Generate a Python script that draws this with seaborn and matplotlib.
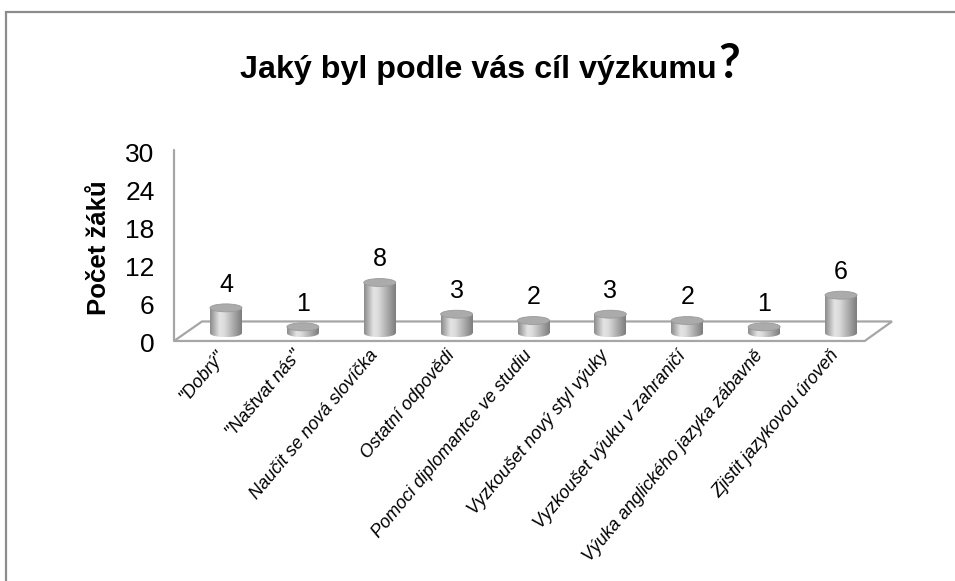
import numpy as np
import pandas as pd
import matplotlib
matplotlib.use("Agg")
import matplotlib.pyplot as plt
import matplotlib.transforms as mtransforms
from matplotlib.patches import Ellipse, Polygon, Rectangle
from matplotlib.colors import LinearSegmentedColormap
import seaborn as sns

# ---- data ----
categories = ['"Dobrý"', '"Naštvat nás"', 'Naučit se nová slovíčka', 'Ostatní odpovědi',
              'Pomoci diplomantce ve studiu', 'Vyzkoušet nový styl výuky',
              'Vyzkoušet výuku v zahraničí', 'Výuka anglického jazyka zábavně',
              'Zjistit jazykovou úroveň']
values = [4, 1, 8, 3, 2, 3, 2, 1, 6]
y_ticks = [0, 6, 12, 18, 24, 30]
title_text = "Jaký byl podle vás cíl výzkumu"
y_label = "Počet žáků"

sns.set_theme(style="white")
plt.rcParams["font.family"] = ["Liberation Sans", "DejaVu Sans"]

W, H = 955, 581
fig = plt.figure(figsize=(W / 100, H / 100), dpi=100)
fig.patch.set_facecolor("white")

# outer frame (top and left visible)
fig.patches.append(Rectangle((6 / W, -0.1), 1.2, 1 - 12 / H + 0.1, transform=fig.transFigure,
                             fill=False, edgecolor="#8c8c8c", linewidth=1.6, zorder=0))

ax = fig.add_axes([174 / W, (H - 343) / H, 718 / W, 190 / H])
df = pd.DataFrame({"cat": categories, "val": values})

base = 1.55      # floor mid-plane (3D look)
bw = 0.416
sns.barplot(data=df, x="cat", y="val", color="#c0c0c0", width=bw, bottom=base,
            ax=ax, zorder=2)

ax.set_xlim(-0.676, 8.663)
ax.set_ylim(0, 30)
for s in ax.spines.values():
    s.set_visible(False)
ax.grid(False)

# floor parallelogram
bt = mtransforms.blended_transform_factory(ax.transAxes, ax.transData)
floor = Polygon([(0, 0.32), (0.962, 0.32), (1.0, 3.4), (0.039, 3.4)], closed=True,
                transform=bt, facecolor="white", edgecolor="#a6a6a6", linewidth=1.6,
                zorder=1, clip_on=False)
ax.add_patch(floor)
ax.plot([0, 0], [0.32, 30.5], transform=bt, color="#a6a6a6", lw=1.6, clip_on=False, zorder=1)

# cylinder shading
cmap = LinearSegmentedColormap.from_list(
    "cyl", [(0, "#8a8a8a"), (0.3, "#e4e4e4"), (0.45, "#dcdcdc"), (1, "#7c7c7c")])
grad = np.linspace(0, 1, 256).reshape(1, -1)
eh = 1.25
for bar in list(ax.patches):
    if not isinstance(bar, Rectangle) or bar is floor:
        continue
    x0 = bar.get_x()
    w = bar.get_width()
    y0 = bar.get_y()
    y1 = y0 + bar.get_height()
    bar.set_facecolor("none")
    bar.set_edgecolor("none")
    im1 = ax.imshow(grad, extent=(x0, x0 + w, y0, y1), aspect="auto", cmap=cmap,
                    interpolation="bicubic", zorder=2)
    im1.set_clip_path(bar)
    bot = Ellipse((x0 + w / 2, y0), w, eh, facecolor="none", edgecolor="none")
    ax.add_patch(bot)
    im2 = ax.imshow(grad, extent=(x0, x0 + w, y0 - eh / 2, y0 + eh / 2), aspect="auto",
                    cmap=cmap, interpolation="bicubic", zorder=2)
    im2.set_clip_path(bot)
    top = Ellipse((x0 + w / 2, y1), w, eh, facecolor="#ababab", edgecolor="#9a9a9a",
                  linewidth=0.6, zorder=3)
    ax.add_patch(top)

ax.set_xlim(-0.676, 8.663)
ax.set_ylim(0, 30)

# value labels
ax.bar_label(ax.containers[0], labels=[str(v) for v in values], padding=8,
             fontsize=18, color="black")

# axes text
ax.set_yticks(y_ticks)
ax.set_yticklabels([str(t) for t in y_ticks], fontsize=19, color="black")
ax.tick_params(axis="y", length=0, pad=14)
ax.tick_params(axis="x", length=0, pad=3)
ax.set_xlabel("")
ax.set_ylabel(y_label, fontsize=18.5, fontweight="bold", color="black", labelpad=10)
ax.set_xticks(range(len(categories)))
ax.set_xticklabels(categories, rotation=50, ha="right", rotation_mode="anchor",
                   fontsize=13, fontstyle="italic", color="black")
off = mtransforms.ScaledTranslation(-0.11, 0, fig.dpi_scale_trans)
for lab in ax.get_xticklabels():
    lab.set_transform(lab.get_transform() + off)

# title
t_main = fig.text(240 / W, 1 - 78 / H, title_text, fontsize=23.2, fontweight="bold",
                  ha="left", va="baseline", color="black")
fig.canvas.draw()
bb = t_main.get_window_extent()
fig.text((bb.x1 + 2) / W, 1 - 78 / H, "?", fontsize=34, fontweight="bold", ha="left",
         va="baseline", color="black", family=["Lato", "DejaVu Sans"])

fig.savefig("out.png", dpi=100, facecolor="white")
